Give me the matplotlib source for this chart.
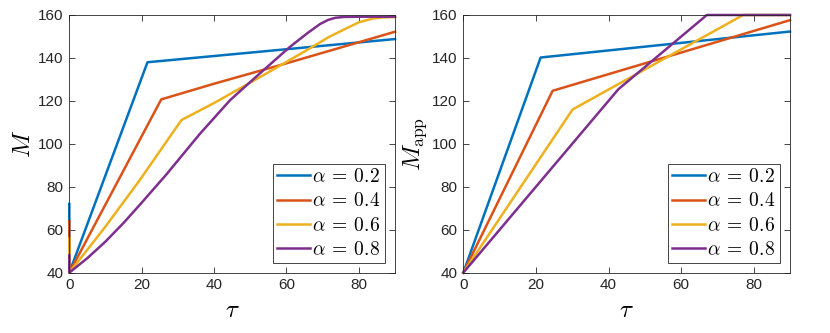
import numpy as np
import matplotlib.pyplot as plt

plt.rcParams['mathtext.fontset'] = 'cm'
plt.rcParams['font.family'] = ['Liberation Sans', 'DejaVu Sans']

labels = [r'$\alpha\:=\:0.2$', r'$\alpha\:=\:0.4$', r'$\alpha\:=\:0.6$', r'$\alpha\:=\:0.8$']
colors = ['#0072BD', '#D95319', '#EDB120', '#7E2F8E']

# left panel: M(tau), spike at tau = 0 then curve
tau_l = [
    [0, 0, 21.6, 90],
    [0, 0, 25.4, 40, 60, 80, 90],
    [0, 0, 10, 19.5, 31.0, 40, 50, 58, 65, 72, 80, 84, 87, 90],
    [0, 0, 5, 10, 15, 20, 26.7, 36, 44.4, 50, 55, 61, 66, 69.3, 71.5, 73.5, 76, 80, 90],
]
M_l = [
    [72, 40, 138.0, 148.8],
    [64, 40, 120.7, 128.0, 137.5, 147.3, 152.2],
    [56, 40, 61.5, 83.2, 111.1, 119.0, 128.5, 136.2, 143.0, 150.0, 156.6, 158.4, 158.9, 159.0],
    [48, 40, 46.8, 54.5, 63.2, 72.6, 85.5, 104.5, 120.3, 128.8, 136.3, 145.2, 151.8, 155.8,
     157.7, 158.7, 159.1, 159.2, 159.2],
]

# right panel: M_app(tau), piecewise linear
tau_r = [
    [0, 21.3, 90],
    [0, 24.6, 90],
    [0, 30.1, 77.1, 90],
    [0, 42.7, 67.1, 90],
]
M_r = [
    [40, 140.2, 152.3],
    [40, 124.7, 157.6],
    [40, 116.0, 160, 160],
    [40, 125.4, 160, 160],
]

fig = plt.figure(figsize=(8.3, 3.33), dpi=100)
ax1 = fig.add_axes([69.3 / 830, 1 - 272.7 / 333, 325.7 / 830, 257.7 / 333])
ax2 = fig.add_axes([463.3 / 830, 1 - 272.7 / 333, 326.7 / 830, 257.7 / 333])

dark = (0.15, 0.15, 0.15)
for ax, taus, Ms, ylab in [(ax1, tau_l, M_l, r'$M$'), (ax2, tau_r, M_r, r'$M_{\rm app}$')]:
    for t, m, c, lab in zip(taus, Ms, colors, labels):
        ax.plot(t, m, color=c, lw=1.8, label=lab, clip_on=False)
    ax.set_xlim(0, 90)
    ax.set_ylim(40, 160)
    ax.set_xticks([0, 20, 40, 60, 80])
    ax.set_yticks([40, 60, 80, 100, 120, 140, 160])
    ax.tick_params(direction='in', top=True, right=True, length=4, width=0.6,
                   colors=dark, labelsize=11, pad=4)
    for s in ax.spines.values():
        s.set_color(dark)
        s.set_linewidth(0.6)
    ax.set_xlabel(r'$\tau$', fontsize=18, color='black', labelpad=4)
    ax.set_ylabel(ylab, fontsize=18, color='black', labelpad=2)
    leg = ax.legend(loc='lower right', bbox_to_anchor=(0.968, 0.036), borderaxespad=0,
                    fontsize=14, fancybox=False, edgecolor=dark, framealpha=1,
                    handlelength=1.7, handletextpad=0.1, labelspacing=0.33,
                    borderpad=0.22)
    leg.get_frame().set_linewidth(0.6)

fig.savefig('out.png', dpi=100)
